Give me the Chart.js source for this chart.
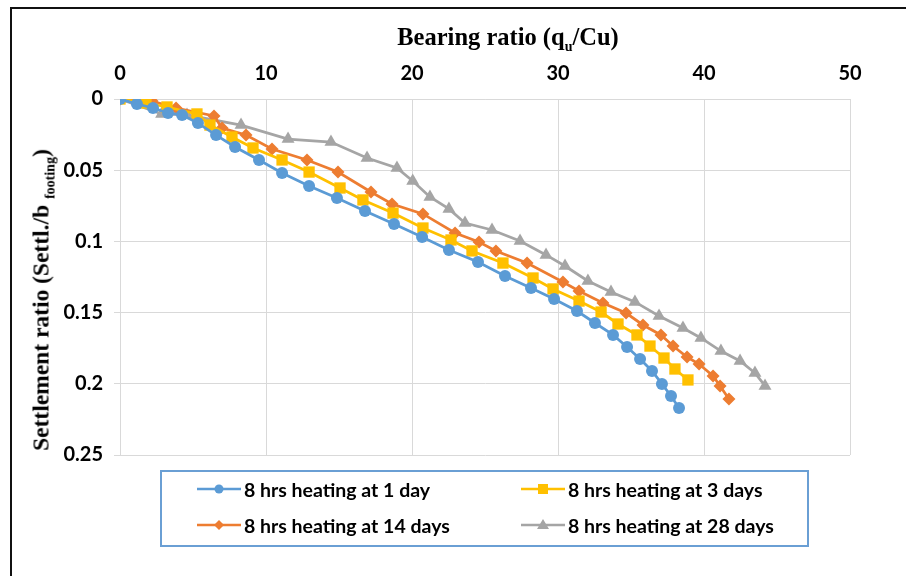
<!DOCTYPE html>
<html>
<head>
<meta charset="utf-8">
<script src="https://cdn.jsdelivr.net/npm/chart.js@4.4.0/dist/chart.umd.min.js"></script>
<style>
    body { margin: 0; background: #fff; }
    #wrap { position: relative; width: 906px; height: 576px; overflow: hidden; background: #fff; }
    #moldura { position: absolute; left: 10px; top: 7px; width: 1000px; height: 1000px;
        border-left: 2px solid #111; border-top: 2px solid #111; }
    #caixa-grafico { position: absolute; left: 0; top: 0; width: 906px; height: 576px; }
    .titulo { position: absolute; font-family: "Liberation Serif", "Times New Roman", serif;
        font-weight: bold; color: #000; white-space: nowrap; }
    .titulo sub { font-size: 14px; vertical-align: -6px; line-height: 0; }
    #titulo-x { left: 508px; top: 37px; font-size: 24.5px; transform: translate(-50%, -50%); }
    #titulo-y { left: 41px; top: 300px; font-size: 23.5px; transform: translate(-50%, -50%) rotate(-90deg); }
    #legenda { position: absolute; left: 160px; top: 470px; width: 645px; height: 73px;
        border: 2px solid #6a9fd4; }
    .legenda-item { position: absolute; display: flex; align-items: center; height: 22px;
        font-family: Lato, "Liberation Sans", sans-serif; font-weight: bold;
        font-size: 19.5px; color: #000; white-space: nowrap; }
    .legenda-item svg { margin-right: 3px; }
</style>
</head>
<body>
<div id="wrap">
    <div id="moldura"></div>
    <div id="caixa-grafico"><canvas id="grafico-recalque"></canvas></div>
    <div class="titulo" id="titulo-x">Bearing ratio (q<sub>u</sub>/Cu)</div>
    <div class="titulo" id="titulo-y">Settlement ratio (Settl./b <sub>footing</sub>)</div>
    <div id="legenda"></div>
</div>
<script>
// series values
const xDay1 = [0, 1.16, 2.26, 3.29, 4.25, 5.34, 6.58, 7.88, 9.52, 11.1, 12.95, 14.86, 16.78, 18.77, 20.69,
    22.53, 24.52, 26.37, 28.15, 29.73, 31.3, 32.53, 33.77, 34.73, 35.62, 36.44, 37.12, 37.74, 38.29];
const yDay1 = [0, 0.0035, 0.0063, 0.0098, 0.0112, 0.0169, 0.0253, 0.0337, 0.0428, 0.052, 0.0611, 0.0695, 0.0787,
    0.0878, 0.0969, 0.106, 0.1145, 0.1243, 0.1327, 0.1404, 0.1489, 0.1573, 0.1657, 0.1742, 0.1826, 0.191,
    0.2001, 0.2086, 0.217];

const xDay3 = [0, 1.78, 3.22, 5.27, 6.16, 7.67, 9.11, 11.1, 12.95, 15.07, 16.64, 18.7, 20.75, 22.67, 24.11,
    26.23, 28.29, 29.66, 31.44, 32.95, 34.11, 35.41, 36.3, 37.26, 38.01, 38.9];
const yDay3 = [0, 0.0028, 0.0056, 0.0105, 0.0183, 0.0267, 0.0344, 0.0428, 0.0513, 0.0625, 0.0709, 0.0801,
    0.0906, 0.099, 0.1067, 0.1152, 0.1257, 0.1334, 0.1419, 0.1496, 0.158, 0.1657, 0.1735, 0.1819, 0.1896, 0.1973];

const xDay14 = [0, 2.19, 3.84, 6.44, 6.99, 8.63, 10.41, 12.81, 14.93, 17.19, 18.63, 20.75, 22.95, 24.59, 25.75,
    27.88, 30.34, 31.44, 33.08, 34.66, 35.82, 37.05, 37.88, 38.84, 39.66, 40.62, 41.1, 41.71];
const yDay14 = [0, 0.0014, 0.0063, 0.0119, 0.0204, 0.0253, 0.0351, 0.0428, 0.0513, 0.0653, 0.0737, 0.0807,
    0.0941, 0.1004, 0.1067, 0.1152, 0.1285, 0.1348, 0.1433, 0.1503, 0.1587, 0.1657, 0.1735, 0.1812, 0.1861,
    0.1945, 0.2015, 0.2107];

const xDay28 = [0, 2.85, 4.59, 8.29, 11.51, 14.45, 16.92, 18.97, 20.05, 21.23, 22.53, 23.63, 25.48, 27.4, 29.18,
    30.48, 32.05, 33.63, 35.27, 36.92, 38.56, 39.79, 41.16, 42.47, 43.49, 44.18];
const yDay28 = [0, 0.0105, 0.0112, 0.0183, 0.0281, 0.0302, 0.0414, 0.0484, 0.0576, 0.0688, 0.0772, 0.0871,
    0.092, 0.0997, 0.1095, 0.1173, 0.1278, 0.1355, 0.1425, 0.1524, 0.1608, 0.1678, 0.177, 0.184, 0.1924, 0.2015];

const seriesNames = ['8 hrs heating at 1 day', '8 hrs heating at 3 days', '8 hrs heating at 14 days', '8 hrs heating at 28 days'];
const xTickValues = [0, 10, 20, 30, 40, 50];
const xTickLabels = ['0', '10', '20', '30', '40', '50'];
const yTickValues = [0, 0.05, 0.1, 0.15, 0.2, 0.25];
const yTickLabels = ['0', '0.05', '0.1', '0.15', '0.2', '0.25'];

const cores = ['#5b9bd5', '#ffc000', '#ed7d31', '#a5a5a5'];
const estilos = ['circle', 'rect', 'rectRot', 'triangle'];
const raios = [6, 8, 6.5, 7.5];

document.addEventListener("DOMContentLoaded", function () {
    const pares = (xs, ys) => xs.map((x, i) => ({ x: x, y: ys[i] }));
    const series = [pares(xDay1, yDay1), pares(xDay3, yDay3), pares(xDay14, yDay14), pares(xDay28, yDay28)];
    // tick text looked up by value (the y scale is reversed, so index order flips)
    const rotulo = (valores, rotulos) => v => rotulos[valores.findIndex(t => Math.abs(t - v) < 1e-6)];

    const fonteTicks = { family: "Lato, 'Liberation Sans', sans-serif", weight: 'bold', size: 20 };

    const ctx = document.getElementById('grafico-recalque').getContext('2d');
    new Chart(ctx, {
        type: 'line',
        data: {
            datasets: series.map((dados, i) => ({
                label: seriesNames[i],
                data: dados,
                borderColor: cores[i],
                backgroundColor: cores[i],
                borderWidth: 2.75,
                pointStyle: estilos[i],
                pointRadius: raios[i],
                pointHoverRadius: raios[i],
                pointBorderWidth: 0,
                tension: 0
            }))
        },
        options: {
            responsive: true,
            maintainAspectRatio: false,
            animation: false,
            layout: { padding: { left: 0, top: 60, right: 56, bottom: 121 } },
            plugins: {
                legend: { display: false },
                tooltip: { enabled: false }
            },
            scales: {
                x: {
                    type: 'linear',
                    position: 'top',
                    min: 0, max: 50,
                    ticks: {
                        stepSize: 10, color: '#000', font: fonteTicks, padding: 13,
                        callback: rotulo(xTickValues, xTickLabels)
                    },
                    grid: { color: '#d9d9d9', drawTicks: false },
                    border: { color: '#d9d9d9' },
                    afterFit: function (scale) { scale.height = 39; }
                },
                y: {
                    type: 'linear',
                    reverse: true,
                    min: 0, max: 0.25,
                    ticks: {
                        stepSize: 0.05, color: '#000', font: fonteTicks, padding: 11,
                        callback: rotulo(yTickValues, yTickLabels)
                    },
                    grid: { color: '#d9d9d9', tickLength: 6 },
                    border: { color: '#d9d9d9' },
                    afterFit: function (scale) { scale.width = 120; }
                }
            }
        }
    });

    // legend in 2 columns, marker drawn with small svg
    const legenda = document.getElementById('legenda');
    const posicoes = [[35, 6], [359, 6], [35, 42], [359, 42]];
    seriesNames.forEach((nome, i) => {
        let marca = '';
        if (estilos[i] === 'circle') marca = `<circle cx="22" cy="11" r="4.5" fill="${cores[i]}"/>`;
        if (estilos[i] === 'rect') marca = `<rect x="17" y="6" width="10" height="10" fill="${cores[i]}"/>`;
        if (estilos[i] === 'rectRot') marca = `<polygon points="22,6 27,11 22,16 17,11" fill="${cores[i]}"/>`;
        if (estilos[i] === 'triangle') marca = `<polygon points="22,5 28,15 16,15" fill="${cores[i]}"/>`;
        legenda.innerHTML += `
            <div class="legenda-item" style="left:${posicoes[i][0]}px; top:${posicoes[i][1]}px">
                <svg width="44" height="22"><line x1="0" y1="11" x2="44" y2="11" stroke="${cores[i]}" stroke-width="2.5"/>${marca}</svg>
                <span>${nome}</span>
            </div>
        `;
    });
});
</script>
</body>
</html>
